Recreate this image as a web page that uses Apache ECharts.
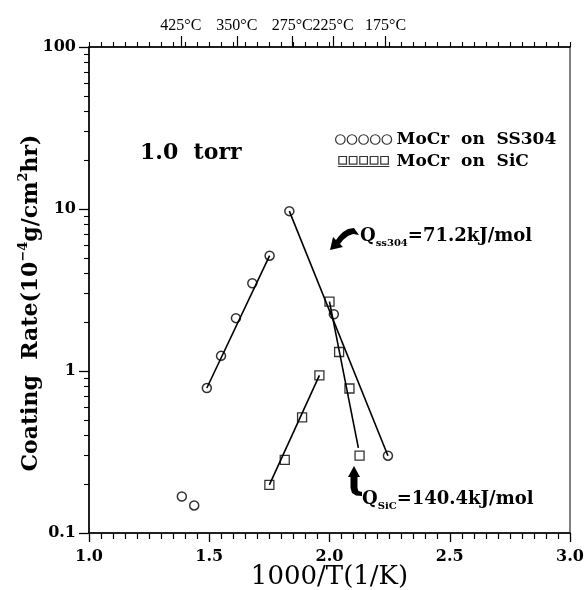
<!DOCTYPE html>
<html>
<head>
<meta charset="utf-8">
<script src="https://cdn.jsdelivr.net/npm/echarts@6/dist/echarts.min.js"></script>
<style>html,body{margin:0;padding:0;background:#fff}#c{width:586px;height:590px}</style>
</head>
<body>
<div id="c"></div>
<script>
// ---- data ----
const ss304X = [1.49, 1.549, 1.611, 1.679, 1.751, 1.833, 2.018, 2.243, 1.386, 1.4375];
const ss304Y = [0.785, 1.24, 2.12, 3.48, 5.15, 9.7, 2.24, 0.30, 0.168, 0.148];
const sicX = [1.75, 1.814, 1.886, 1.958, 2.0, 2.04, 2.083, 2.125];
const sicY = [0.198, 0.283, 0.518, 0.94, 2.68, 1.31, 0.78, 0.30];
const fitSS304LowX = [1.49, 1.751];   const fitSS304LowY = [0.785, 5.15];
const fitSS304HighX = [1.833, 2.243]; const fitSS304HighY = [9.7, 0.30];
const fitSiCLowX = [1.75, 1.958];     const fitSiCLowY = [0.198, 0.94];
const fitSiCHighX = [2.0, 2.12];      const fitSiCHighY = [2.68, 0.335];
const topTickX = [1.382, 1.615, 1.845, 2.015, 2.233];
const topTickLabels = ['425°C', '350°C', '275°C', '225°C', '175°C'];
const xTickLabels = ['1.0', '1.5', '2.0', '2.5', '3.0'];
const yTickLabels = ['0.1', '1', '10', '100'];
const seriesNames = ['MoCr  on  SS304', 'MoCr  on  SiC'];

const pairs = (xs, ys) => xs.map((x, i) => [x, ys[i]]);
const minorLog = [];
for (let d = -1; d <= 1; d++) for (let k = 2; k <= 9; k++) minorLog.push(Math.log10(k * Math.pow(10, d)));

const SERIF = 'DejaVu Serif';
const chart = echarts.init(document.getElementById('c'), null, {renderer: 'canvas'});

const circlesIcon = 'path://M1,5A4.5,4.5 0 1 1 10,5A4.5,4.5 0 1 1 1,5Z M12,5A4.5,4.5 0 1 1 21,5A4.5,4.5 0 1 1 12,5Z M23,5A4.5,4.5 0 1 1 32,5A4.5,4.5 0 1 1 23,5Z M34,5A4.5,4.5 0 1 1 43,5A4.5,4.5 0 1 1 34,5Z M45,5A4.5,4.5 0 1 1 54,5A4.5,4.5 0 1 1 45,5Z';
const squaresIcon = 'path://M1,1L9,1L9,9L1,9Z M12,1L20,1L20,9L12,9Z M23,1L31,1L31,9L23,9Z M34,1L42,1L42,9L34,9Z M45,1L53,1L53,9L45,9Z M0,11.5L54,11.5';

const lineSeries = (xs, ys) => ({
  type: 'line', data: pairs(xs, ys), showSymbol: false, symbol: 'none',
  lineStyle: {color: '#000', width: 1.6}, silent: true, z: 2, animation: false
});

const option = {
  animation: false,
  backgroundColor: '#fff',
  grid: {left: 89, right: 16, top: 47, bottom: 57, show: true, borderColor: '#000', borderWidth: 1,
    containLabel: false, outerBoundsMode: 'none'},
  legend: {
    orient: 'vertical', left: 330, top: 126, itemGap: 5, itemWidth: 56, itemHeight: 10,
    textStyle: {fontFamily: SERIF, fontWeight: 'bold', fontSize: 17, color: '#000'},
    data: [
      {name: seriesNames[0], icon: circlesIcon, itemStyle: {color: 'rgba(0,0,0,0)', borderColor: '#000', borderWidth: 1.2}},
      {name: seriesNames[1], icon: squaresIcon, itemStyle: {color: 'rgba(0,0,0,0)', borderColor: '#000', borderWidth: 1.2}}
    ]
  },
  xAxis: [
    {
      type: 'value', position: 'bottom', min: 1, max: 3, interval: 0.5,
      name: '1000/T(1/K)', nameLocation: 'middle', nameGap: 44, nameMoveOverlap: false,
      nameTextStyle: {fontFamily: SERIF, fontSize: 26, color: '#000', verticalAlign: 'middle'},
      axisLine: {onZero: false, lineStyle: {color: '#000', width: 1.5}},
      axisTick: {length: 9, lineStyle: {color: '#000', width: 1.3}},
      minorTick: {show: true, splitNumber: 10, length: 6, lineStyle: {color: '#000', width: 1.2}},
      axisLabel: {margin: 16, fontFamily: SERIF, fontWeight: 'bold', fontSize: 16, color: '#000',
        formatter: v => xTickLabels[Math.round((v - 1) / 0.5)]},
      splitLine: {show: false}
    },
    {
      type: 'value', position: 'top', min: 1, max: 3,
      axisLine: {show: false, onZero: false},
      axisTick: {show: true, customValues: topTickX, length: 11, lineStyle: {color: '#000', width: 1.2}},
      axisLabel: {show: true, customValues: topTickX, margin: 13, fontFamily: 'Liberation Serif', fontSize: 16, color: '#000',
        formatter: v => { const i = topTickX.findIndex(t => Math.abs(t - v) < 1e-6); return i >= 0 ? topTickLabels[i] : ''; }},
      splitLine: {show: false}
    },
    {
      type: 'value', position: 'top', min: 1, max: 3, interval: 0.05,
      axisLine: {show: true, onZero: false, lineStyle: {color: '#000', width: 1.5}},
      axisTick: {show: true, length: 5, lineStyle: {color: '#000', width: 1.1}},
      axisLabel: {show: false},
      splitLine: {show: false}
    }
  ],
  yAxis: [
    {
      type: 'log', logBase: 10, min: 0.1, max: 100, position: 'left',
      axisLine: {show: true, onZero: false, lineStyle: {color: '#000', width: 1.5}},
      axisTick: {length: 10, lineStyle: {color: '#000', width: 1.3}},
      axisLabel: {margin: 13, fontFamily: SERIF, fontWeight: 'bold', fontSize: 16, color: '#000',
        formatter: v => yTickLabels[Math.round(Math.log10(v)) + 1]},
      splitLine: {show: false}
    },
    {
      type: 'value', min: -1, max: 2, position: 'left',
      axisLine: {show: false, onZero: false},
      axisTick: {show: true, customValues: minorLog, length: 5, lineStyle: {color: '#000', width: 1.1}},
      axisLabel: {show: false},
      splitLine: {show: false}
    }
  ],
  series: [
    lineSeries(fitSS304LowX, fitSS304LowY),
    lineSeries(fitSS304HighX, fitSS304HighY),
    lineSeries(fitSiCLowX, fitSiCLowY),
    lineSeries(fitSiCHighX, fitSiCHighY),
    {
      name: seriesNames[0], type: 'scatter', data: pairs(ss304X, ss304Y), symbol: 'circle', symbolSize: 9,
      itemStyle: {color: 'rgba(0,0,0,0)', borderColor: '#000', borderWidth: 1.5}, z: 5
    },
    {
      name: seriesNames[1], type: 'scatter', data: pairs(sicX, sicY), symbol: 'rect', symbolSize: 9,
      itemStyle: {color: 'rgba(0,0,0,0)', borderColor: '#000', borderWidth: 1.3}, z: 5
    }
  ],
  graphic: [
    {type: 'text', x: 31, y: 303, rotation: Math.PI / 2, style: {
      text: '{n|Coating  Rate(10}{s|−4}{n|g/cm}{s|2}{n|hr)}', align: 'center', verticalAlign: 'middle',
      rich: {n: {font: 'bold 22px "DejaVu Serif"', fill: '#000', lineHeight: 28},
             s: {font: 'bold 13px "DejaVu Serif"', fill: '#000', verticalAlign: 'top', lineHeight: 28, padding: [0,0,6,0]}}}},
    {type: 'text', left: 140, top: 142, style: {text: '1.0  torr', font: 'bold 22px "DejaVu Serif"', fill: '#000'}},
    {type: 'polygon', x: 330, y: 226, shape: {points: [[0,24],[3,11],[6,14],[9,10],[13,6],[18,3],[24,2],[29,9],[23,8],[18,10],[13,14],[10,18],[13,21]]},
      style: {fill: '#000'}},
    {type: 'text', left: 360, top: 227, style: {
      text: '{q|Q}{s|ss304}{q|=71.2kJ/mol}',
      rich: {q: {font: 'bold 18px "DejaVu Serif"', fill: '#000', lineHeight: 20},
             s: {font: 'bold 10px "DejaVu Serif"', fill: '#000', verticalAlign: 'bottom', lineHeight: 20, padding: [0,0,-2,0]}}}},
    {type: 'polygon', x: 348, y: 466, shape: {points: [[6,0],[12,11],[9.5,11],[9.5,22],[10.5,25],[14,26],[14,30],[8,29.5],[4,27],[2.5,22],[2.5,11],[0,11]]},
      style: {fill: '#000'}},
    {type: 'text', left: 362, top: 490, style: {
      text: '{q|Q}{s|SiC}{q|=140.4kJ/mol}',
      rich: {q: {font: 'bold 18px "DejaVu Serif"', fill: '#000', lineHeight: 20},
             s: {font: 'bold 10px "DejaVu Serif"', fill: '#000', verticalAlign: 'bottom', lineHeight: 20, padding: [0,0,-2,0]}}}}
  ]
};
chart.setOption(option);
</script>
</body>
</html>
